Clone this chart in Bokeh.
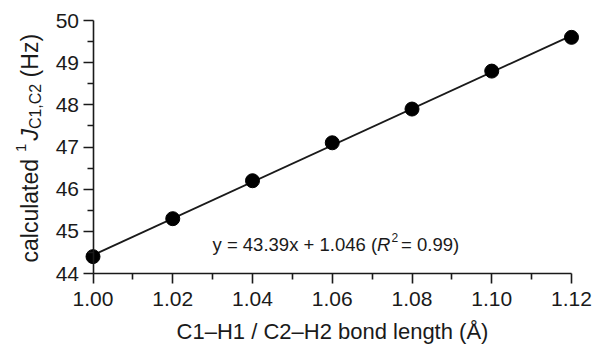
import math
from bokeh.plotting import figure
from bokeh.models import Label, FixedTicker, PrintfTickFormatter
from bokeh.embed import file_html
from bokeh.resources import INLINE

# ---- data ----
bond_length = [1.00, 1.02, 1.04, 1.06, 1.08, 1.10, 1.12]
coupling_hz = [44.4, 45.3, 46.2, 47.1, 47.9, 48.8, 49.6]
fit_slope = 43.39
fit_intercept = 1.046

x_major_ticks = [1.00, 1.02, 1.04, 1.06, 1.08, 1.10, 1.12]
x_minor_ticks = [1.01, 1.03, 1.05, 1.07, 1.09, 1.11]
x_tick_labels = ["1.00", "1.02", "1.04", "1.06", "1.08", "1.10", "1.12"]
y_major_ticks = [44, 45, 46, 47, 48, 49, 50]
y_minor_ticks = [44.5, 45.5, 46.5, 47.5, 48.5, 49.5]
y_tick_labels = ["44", "45", "46", "47", "48", "49", "50"]

x_title = "C1\u2013H1 / C2\u2013H2 bond length (\u00c5)"
fit_text = ["y = 43.39x + 1.046 (", "R", "2", "= 0.99)"]
y_title = ["calculated", "1", "J", "C1,C2", "(Hz)"]

FONT = "Liberation Sans"
INK = "#1a1a1a"

# Arial / Liberation Sans advance widths (per 1000 em)
W = {'a': 556, 'c': 500, 'l': 222, 'u': 556, 't': 278, 'e': 556, 'd': 556, ' ': 278,
     '1': 556, 'J': 500, 'C': 722, ',': 278, '2': 556, '(': 333, 'H': 722, 'z': 500,
     ')': 333, 'y': 500, '=': 584, '4': 556, '3': 556, '.': 278, '9': 556, 'x': 500,
     '+': 584, '0': 556, '6': 556, 'R': 722}


def tw(s, size):
    return sum(W.get(ch, 556) for ch in s) * size / 1000.0


# ---- layout (canvas pixels) ----
CW, CH = 592, 344
OFF = 1.0
AX0, AX1 = 93.5 - OFF, 572.0 - OFF      # x = first / last major tick
AY0, AY1 = 274.0 - OFF, 21.0 - OFF      # y = first / last major tick

x0, x1 = x_major_ticks[0], x_major_ticks[-1]
y0, y1 = y_major_ticks[0], y_major_ticks[-1]
xs = (x1 - x0) / (AX1 - AX0)
ys = (y1 - y0) / (AY0 - AY1)
x_range = (x0 - AX0 * xs, x1 + (CW - AX1) * xs)
y_range = (y0 - (CH - AY0) * ys, y1 + AY1 * ys)

p = figure(width=CW, height=CH, min_border=0,
           x_range=x_range, y_range=y_range,
           output_backend="svg", toolbar_location=None,
           background_fill_color="white", border_fill_color="white")
p.outline_line_color = None
p.xgrid.grid_line_color = None
p.ygrid.grid_line_color = None

for ax, majors, minors, labels, loc, bnds in (
        (p.xaxis[0], x_major_ticks, x_minor_ticks, x_tick_labels, y0, (x0, x1)),
        (p.yaxis[0], y_major_ticks, y_minor_ticks, y_tick_labels, x0, (y0, y1))):
    ax.ticker = FixedTicker(ticks=majors, minor_ticks=minors)
    ax.major_label_overrides = {t: l for t, l in zip(majors, labels)}
    ax.fixed_location = loc
    ax.bounds = bnds
    ax.axis_line_color = INK
    ax.axis_line_width = 1.6
    ax.major_tick_line_color = INK
    ax.major_tick_line_width = 1.6
    ax.minor_tick_line_color = INK
    ax.minor_tick_line_width = 1.6
    ax.major_tick_in = 0
    ax.major_tick_out = 10
    ax.minor_tick_in = 0
    ax.minor_tick_out = 6
    ax.major_label_text_font = FONT
    ax.major_label_text_font_size = "21px"
    ax.major_label_text_color = INK

p.xaxis[0].formatter = PrintfTickFormatter(format="%.2f")
p.yaxis[0].formatter = PrintfTickFormatter(format="%d")
p.xaxis[0].major_label_standoff = 8
p.yaxis[0].major_label_standoff = 4
p.xaxis[0].axis_label = x_title
p.xaxis[0].axis_label_text_font = FONT
p.xaxis[0].axis_label_text_font_size = "22px"
p.xaxis[0].axis_label_text_font_style = "normal"
p.xaxis[0].axis_label_text_color = INK
p.xaxis[0].axis_label_standoff = 10

# fit line
fx = [bond_length[0], bond_length[-1]]
fy = [fit_slope * v + fit_intercept for v in fx]
p.line(fx, fy, line_color=INK, line_width=1.8)

# points
p.scatter(bond_length, coupling_hz, size=14, fill_color="black", line_color="black")

# origin of the axes in frame screen units (y measured upward from bottom)
OSX = AX0
OSY = CH - AY0

# equation annotation
eq_size = 18.5
cur = OSX + 119.5
ey = OSY + 29.0
pieces = [(fit_text[0], eq_size, "normal", 0, 0),
          (fit_text[1], eq_size, "italic", 0, 0),
          (fit_text[2], 12, "normal", 7, 1),
          (fit_text[3], eq_size, "normal", 0, 3)]
for txt, sz, st, dy, pre in pieces:
    cur += pre
    p.add_layout(Label(x=cur, y=ey + dy, x_units="screen", y_units="screen", text=txt,
                       text_font=FONT, text_font_size=f"{sz}px", text_font_style=st,
                       text_color=INK, text_align="left", text_baseline="alphabetic"))
    cur += tw(txt, sz)

# rotated y-axis title built from pieces
ty_size = 23
bx = OSX - 63.5
cur = OSY + 11.0
ypieces = [(y_title[0], ty_size, "normal", 0, 0),
           (y_title[1], 15, "normal", -9, 7),
           (y_title[2], ty_size, "italic", 0, 3),
           (y_title[3], 16, "normal", 5.5, 0),
           (y_title[4], ty_size, "normal", 0, tw(" ", ty_size))]
for txt, sz, st, dx, pre in ypieces:
    cur += pre
    p.add_layout(Label(x=bx + dx, y=cur, x_units="screen", y_units="screen", text=txt,
                       angle=math.pi / 2, text_font=FONT, text_font_size=f"{sz}px",
                       text_font_style=st, text_color=INK, text_align="left",
                       text_baseline="alphabetic"))
    cur += tw(txt, sz)

open("out.html", "w").write(file_html(p, INLINE))
